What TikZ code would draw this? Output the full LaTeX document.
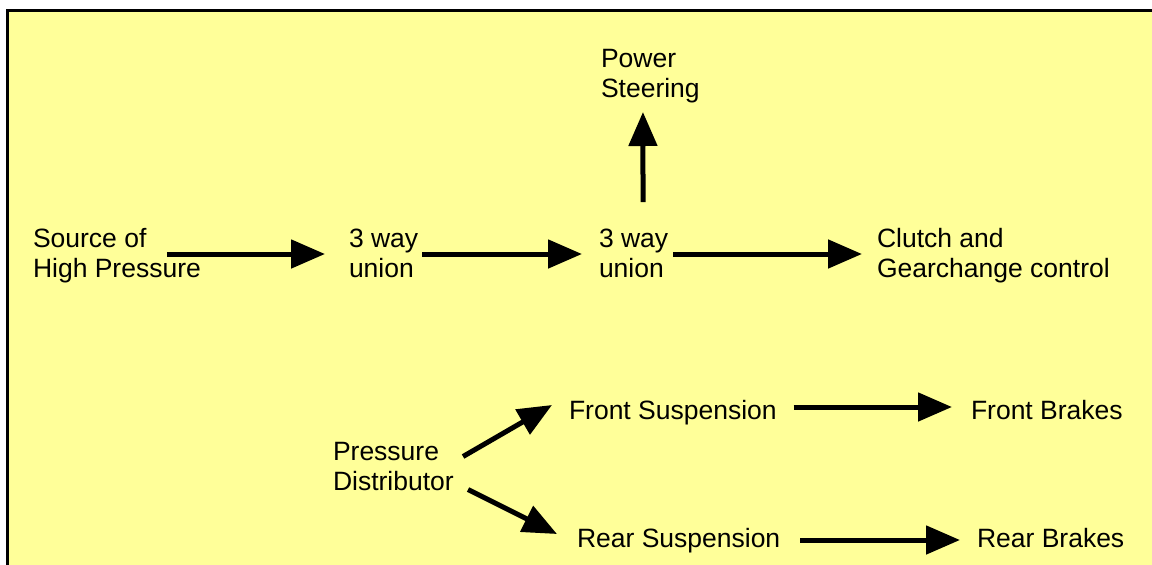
\documentclass[tikz,border=0pt]{standalone}
\usepackage{fontspec}
\setmainfont{Liberation Sans}
\usetikzlibrary{arrows.meta}
\definecolor{bgyellow}{RGB}{255,255,153}
\newcommand{\txtblock}[1]{\begin{tabular}[t]{@{}l@{}}#1\end{tabular}}
\begin{document}
\begin{tikzpicture}[x=1pt,y=-1pt,
  lbl/.style={anchor=base west,inner sep=0pt,outer sep=0pt,font=\fontsize{26.5}{30}\selectfont},
  arr/.style={line width=5pt,-{Triangle[length=34pt,width=28pt]}}]
\useasboundingbox (0,0) rectangle (1152,565);
\fill[bgyellow] (7.2,10.8) rectangle (1152,565);
\draw[line width=3pt] (7.2,565) -- (7.2,10.8) -- (1152,10.8);

\node[lbl] (src) at (33,247) {\txtblock{Source of\\High Pressure}};
\node[lbl] (u1) at (349,247) {\txtblock{3 way\\union}};
\node[lbl] (u2) at (599,247) {\txtblock{3 way\\union}};
\node[lbl] (clutch) at (877,247) {\txtblock{Clutch and\\Gearchange control}};
\node[lbl] (ps) at (601,67) {\txtblock{Power\\Steering}};
\node[lbl] (pd) at (333,460) {\txtblock{Pressure\\Distributor}};
\node[lbl] (fs) at (569,419.5) {\txtblock{Front Suspension}};
\node[lbl] (fb) at (971,419.5) {\txtblock{Front Brakes}};
\node[lbl] (rs) at (577,547.5) {\txtblock{Rear Suspension}};
\node[lbl] (rb) at (977,547.5) {\txtblock{Rear Brakes}};

\draw[arr] ([xshift=-34pt,yshift=2pt]src.east) -- ([xshift=-24pt,yshift=2pt]u1.west);
\draw[arr] ([xshift=4pt,yshift=2pt]u1.east) -- ([xshift=-17pt,yshift=2pt]u2.west);
\draw[arr] ([xshift=5pt,yshift=2pt]u2.east) -- ([xshift=-15pt,yshift=2pt]clutch.west);
\draw[arr] ([xshift=9.4pt,yshift=24pt]u2.north) -- ([xshift=-7.4pt,yshift=-6pt]ps.south);
\draw[arr] ([xshift=17pt,yshift=6.5pt]fs.east) -- ([xshift=-19pt,yshift=6.5pt]fb.west);
\draw[arr] ([xshift=20pt,yshift=1.5pt]rs.east) -- ([xshift=-17pt,yshift=1.5pt]rb.west);
\draw[arr] ([xshift=9.3pt,yshift=12.5pt]pd.east) -- ([xshift=-17pt,yshift=8.5pt]fs.west);
\draw[arr] ([xshift=14.3pt,yshift=-20.5pt]pd.east) -- ([xshift=-20pt,yshift=7.5pt]rs.west);
\end{tikzpicture}
\end{document}
